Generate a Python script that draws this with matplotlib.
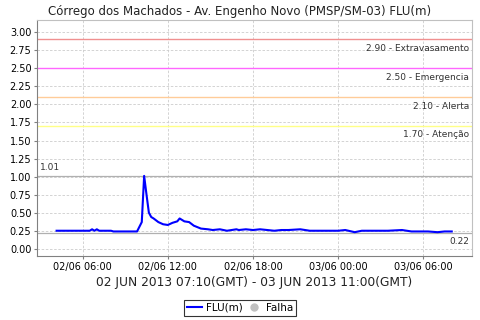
import matplotlib
matplotlib.use("Agg")
import matplotlib.pyplot as plt
import matplotlib.dates as mdates
import pandas as pd

# Leituras do nivel (hora local)
times = ["2013-06-02 04:10", "2013-06-02 05:00", "2013-06-02 06:00", "2013-06-02 06:30",
         "2013-06-02 06:40", "2013-06-02 06:50", "2013-06-02 07:00", "2013-06-02 07:10",
         "2013-06-02 08:00", "2013-06-02 08:10", "2013-06-02 09:00", "2013-06-02 09:50",
         "2013-06-02 10:10", "2013-06-02 10:20", "2013-06-02 10:30", "2013-06-02 10:40",
         "2013-06-02 10:50", "2013-06-02 11:00", "2013-06-02 11:20", "2013-06-02 11:40",
         "2013-06-02 12:00", "2013-06-02 12:20", "2013-06-02 12:40", "2013-06-02 12:50",
         "2013-06-02 13:10", "2013-06-02 13:30", "2013-06-02 13:50", "2013-06-02 14:20",
         "2013-06-02 14:50", "2013-06-02 15:10", "2013-06-02 15:40", "2013-06-02 16:10",
         "2013-06-02 16:50", "2013-06-02 17:00", "2013-06-02 17:30", "2013-06-02 18:00",
         "2013-06-02 18:30", "2013-06-02 19:00", "2013-06-02 19:30", "2013-06-02 20:00",
         "2013-06-02 20:30", "2013-06-02 21:20", "2013-06-02 22:00", "2013-06-02 23:00",
         "2013-06-03 00:00", "2013-06-03 00:30", "2013-06-03 01:10", "2013-06-03 01:40",
         "2013-06-03 02:30", "2013-06-03 03:30", "2013-06-03 04:30", "2013-06-03 05:10",
         "2013-06-03 05:30", "2013-06-03 06:20", "2013-06-03 07:00", "2013-06-03 07:30",
         "2013-06-03 08:00"]
flu = [0.25, 0.25, 0.25, 0.25, 0.27, 0.25, 0.27, 0.25,
       0.25, 0.24, 0.24, 0.24,
       0.37, 1.01, 0.75, 0.50,
       0.44, 0.42, 0.37, 0.34,
       0.33, 0.36, 0.38, 0.42,
       0.38, 0.37, 0.32, 0.28,
       0.27, 0.26, 0.27, 0.25,
       0.27, 0.26, 0.27, 0.26,
       0.27, 0.26, 0.25, 0.26,
       0.26, 0.27, 0.25, 0.25,
       0.25, 0.26, 0.23, 0.25,
       0.25, 0.25, 0.26, 0.24,
       0.24, 0.24, 0.23, 0.24,
       0.24]

limites = [2.90, 2.50, 2.10, 1.70]
nomes = ["Extravasamento", "Emergencia", "Alerta", "Atenção"]
cores = ["#f09090", "#ff66ff", "#ffcc99", "#ffff88"]
maximo = 1.01
minimo = 0.22

t = pd.to_datetime(times)

fig = plt.figure(figsize=(4.8, 3.2), dpi=100)
ax = fig.add_axes([0.077, 0.2, 0.906, 0.7375])

ax.set_xlim(pd.Timestamp("2013-06-02 02:47"), pd.Timestamp("2013-06-03 09:25"))
ax.set_ylim(-0.1, 3.17)
ax.set_yticks([i * 0.25 for i in range(13)])
ax.yaxis.set_major_formatter(matplotlib.ticker.FormatStrFormatter("%.2f"))
ax.xaxis.set_major_locator(mdates.HourLocator(byhour=[0, 6, 12, 18]))
ax.xaxis.set_major_formatter(mdates.DateFormatter("%d/%m %H:%M"))
ax.grid(True, color="#cccccc", linestyle=(0, (3, 2)), linewidth=0.6)
ax.tick_params(labelsize=7, length=2, color="#808080", pad=2)

for s in ["left", "bottom"]:
    ax.spines[s].set_color("#808080")
for s in ["top", "right"]:
    ax.spines[s].set_color("#c0c0c0")

# linhas de alerta
for v, n, c in zip(limites, nomes, cores):
    ax.axhline(v, color=c, linewidth=1)
    ax.text(0.993, v - 0.06, f"{v:.2f} - {n}", transform=ax.get_yaxis_transform(),
            ha="right", va="top", fontsize=6.5, color="#333333")

ax.axhline(maximo, color="#b0b0b0", linewidth=0.9)
ax.text(0.007, maximo + 0.06, f"{maximo:.2f}", transform=ax.get_yaxis_transform(),
        ha="left", va="bottom", fontsize=6.5, color="#333333")
ax.axhline(minimo, color="#b0b0b0", linewidth=0.9)
ax.text(0.993, minimo - 0.06, f"{minimo:.2f}", transform=ax.get_yaxis_transform(),
        ha="right", va="top", fontsize=6.5, color="#333333")

ax.plot(t, flu, color="#0000ff", linewidth=1.5, label="FLU(m)")
ax.plot([], [], "o", color="#c0c0c0", markersize=5, label="Falha")

fig.text(0.5, 0.965, "Córrego dos Machados - Av. Engenho Novo (PMSP/SM-03) FLU(m)",
         ha="center", va="center", fontsize=8.5, color="#222222")
fig.text(0.53, 0.118, "02 JUN 2013 07:10(GMT) - 03 JUN 2013 11:00(GMT)",
         ha="center", va="center", fontsize=8.8, color="#222222")

leg = fig.legend(loc="center", bbox_to_anchor=(0.5, 0.038), ncol=2, fontsize=7.5,
                 frameon=True, fancybox=False, handlelength=1.5, handletextpad=0.4,
                 columnspacing=0.3, borderpad=0.3, borderaxespad=0)
leg.get_frame().set_edgecolor("black")
leg.get_frame().set_linewidth(0.8)

fig.savefig("out.png", dpi=100)
